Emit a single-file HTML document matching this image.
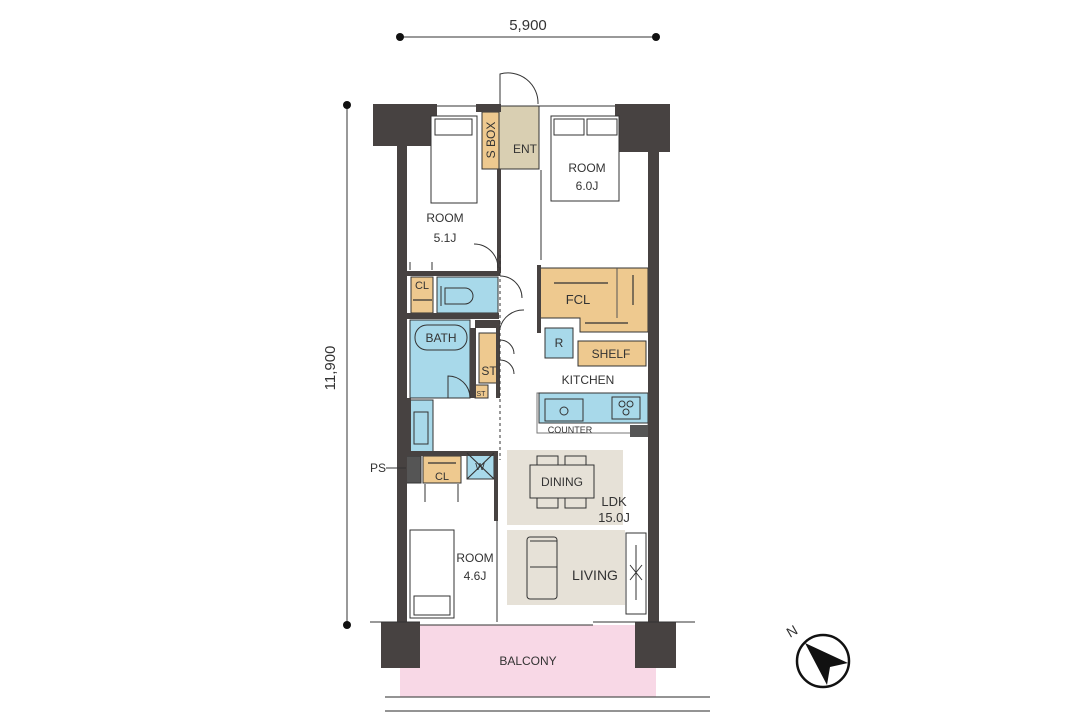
<!DOCTYPE html>
<html><head><meta charset="utf-8"><style>
html,body{margin:0;padding:0;background:#fff;}
svg{display:block;}
text{font-family:"Liberation Sans",sans-serif;fill:#333;}
</style></head><body>
<svg width="1090" height="726" viewBox="0 0 1090 726" xmlns="http://www.w3.org/2000/svg">
<!-- dimensions -->
<line x1="400" y1="37" x2="656" y2="37" stroke="#333" stroke-width="1"/>
<circle cx="400" cy="37" r="4" fill="#111"/><circle cx="656" cy="37" r="4" fill="#111"/>
<text x="528" y="30" font-size="15" text-anchor="middle">5,900</text>
<line x1="347" y1="105" x2="347" y2="625" stroke="#333" stroke-width="1"/>
<circle cx="347" cy="105" r="4" fill="#111"/><circle cx="347" cy="625" r="4" fill="#111"/>
<text x="0" y="0" font-size="15" text-anchor="middle" transform="translate(335,368) rotate(-90)">11,900</text>

<!-- balcony -->
<rect x="400" y="625" width="256" height="72" fill="#f8d8e6"/>
<line x1="385" y1="697" x2="710" y2="697" stroke="#555" stroke-width="1.2"/>
<line x1="385" y1="711" x2="710" y2="711" stroke="#555" stroke-width="1.2"/>
<text x="528" y="665" font-size="12" text-anchor="middle">BALCONY</text>

<!-- colored areas -->
<rect x="482" y="112" width="17" height="57" fill="#eec98f" stroke="#333"/>
<rect x="499" y="106" width="40" height="63" fill="#d9cfb2" stroke="#333"/>
<rect x="411" y="277" width="22" height="36" fill="#eec98f" stroke="#333"/>
<rect x="437" y="277" width="61" height="36" fill="#a8d9ea" stroke="#333"/>
<path d="M540 268 H648 V332 H580 V318 H540 Z" fill="#eec98f" stroke="#333"/>
<line x1="617" y1="268" x2="617" y2="318" stroke="#555"/>
<rect x="410" y="320" width="60" height="78" fill="#a8d9ea" stroke="#333"/>
<rect x="479" y="333" width="20" height="50" fill="#eec98f" stroke="#333"/>
<rect x="475" y="385" width="13" height="13" fill="#eec98f" stroke="#333"/>
<rect x="545" y="328" width="28" height="30" fill="#a8d9ea" stroke="#333"/>
<rect x="578" y="341" width="68" height="25" fill="#eec98f" stroke="#333"/>
<rect x="537" y="393" width="111" height="40" fill="#fff" stroke="#777"/>
<rect x="539" y="393" width="109" height="30" fill="#a8d9ea" stroke="#333"/>
<rect x="630" y="425" width="18" height="12" fill="#555"/>
<rect x="410" y="400" width="23" height="52" fill="#a8d9ea" stroke="#333"/>
<rect x="406" y="456" width="15" height="27" fill="#555" stroke="#333"/>
<rect x="423" y="456" width="38" height="27" fill="#eec98f" stroke="#333"/>
<rect x="467" y="453" width="27" height="26" fill="#a8d9ea" stroke="#333"/>
<rect x="507" y="450" width="116" height="75" fill="#e6e1d7"/>
<rect x="507" y="530" width="118" height="75" fill="#e6e1d7"/>

<!-- walls -->
<g fill="#474241">
<rect x="373" y="104" width="64" height="42"/>
<rect x="397" y="146" width="10" height="478"/>
<rect x="615" y="104" width="55" height="48"/>
<rect x="648" y="152" width="11" height="472"/>
<rect x="381" y="622" width="39" height="46"/>
<rect x="635" y="622" width="41" height="46"/>
<rect x="476" y="104" width="25" height="8"/>
<rect x="497" y="169" width="4" height="104"/>
<rect x="407" y="271" width="93" height="5"/>
<rect x="407" y="313" width="92" height="6"/>
<rect x="475" y="320" width="25" height="8"/>
<rect x="470" y="328" width="6" height="70"/>
<rect x="496" y="328" width="4" height="70"/>
<rect x="407" y="398" width="4" height="58"/>
<rect x="404" y="451" width="94" height="5"/>
<rect x="494" y="451" width="4" height="70"/>
<rect x="537" y="265" width="4" height="68"/>
</g>
<g stroke="#333" stroke-width="1" fill="none">
<line x1="437" y1="106" x2="476" y2="106"/><line x1="539" y1="106" x2="615" y2="106"/>
<line x1="370" y1="622" x2="420" y2="622"/><line x1="420" y1="625" x2="593" y2="625"/><line x1="593" y1="622" x2="695" y2="622"/>
<line x1="497" y1="521" x2="497" y2="622"/>
<line x1="541" y1="170" x2="541" y2="260"/>
<line x1="500" y1="255" x2="500" y2="460" stroke-dasharray="3 3"/>
<!-- beds -->
<rect x="431" y="116" width="46" height="87" fill="#fff"/>
<rect x="435" y="119" width="37" height="16"/>
<rect x="551" y="116" width="68" height="85" fill="#fff"/>
<rect x="554" y="119" width="30" height="16"/><rect x="587" y="119" width="30" height="16"/>
<rect x="410" y="530" width="44" height="88" fill="#fff"/>
<rect x="414" y="596" width="36" height="19"/>
<!-- doors -->
<path d="M500 104 V74 A30 30 0 0 1 538 104"/>
<path d="M498 268 A24 24 0 0 0 474 244"/>
<path d="M500 276 A22 22 0 0 1 522 298 M500 328 A24 24 0 0 1 524 310"/>
<path d="M470 398 A22 22 0 0 0 448 376 V398"/>
<path d="M500 340 A14 14 0 0 1 514 354 M500 360 A14 14 0 0 1 514 374"/>
<path d="M425 484 V502 M458 484 V502"/>
<path d="M410 270 V262 M432 270 V262"/>
<!-- bath etc -->
<rect x="415" y="325" width="52" height="25" rx="12"/>
<path d="M445 288 h20 a8 8 0 0 1 0 16 h-20 Z M441 286 v20"/>
<rect x="414" y="412" width="14" height="32"/>
<rect x="545" y="399" width="38" height="22"/><circle cx="564" cy="411" r="4"/>
<rect x="612" y="397" width="28" height="22"/>
<circle cx="622" cy="404" r="3"/><circle cx="630" cy="404" r="3"/><circle cx="626" cy="412" r="3"/>
<!-- dining -->
<rect x="530" y="465" width="64" height="33" fill="#e6e1d7"/>
<rect x="537" y="456" width="21" height="9"/><rect x="565" y="456" width="21" height="9"/>
<rect x="537" y="498" width="21" height="10"/><rect x="565" y="498" width="21" height="10"/>
<!-- sofa -->
<rect x="527" y="537" width="30" height="62" rx="3"/>
<line x1="530" y1="541" x2="557" y2="541"/><line x1="530" y1="567" x2="557" y2="567"/>
<rect x="626" y="533" width="20" height="81" fill="#fff"/>
<line x1="636" y1="545" x2="636" y2="600"/><path d="M630 565 L642 580 M642 565 L630 580"/>
</g>
<!-- hatches -->
<g stroke="#333" stroke-width="1.2" fill="none">
<line x1="554" y1="283" x2="608" y2="283"/><line x1="585" y1="323" x2="628" y2="323"/>
<line x1="633" y1="275" x2="633" y2="305"/><line x1="428" y1="463" x2="456" y2="463"/>
<line x1="413" y1="300" x2="432" y2="300"/>
<line x1="467" y1="453" x2="494" y2="479"/><line x1="494" y1="453" x2="467" y2="479"/>
</g>
<!-- labels -->
<g font-size="12">
<text x="445" y="222" text-anchor="middle">ROOM</text><text x="445" y="242" text-anchor="middle">5.1J</text>
<text x="587" y="172" text-anchor="middle">ROOM</text><text x="587" y="190" text-anchor="middle">6.0J</text>
<text x="525" y="153" text-anchor="middle">ENT</text>
<text x="0" y="0" text-anchor="middle" transform="translate(495,140) rotate(-90)">S BOX</text>
<text x="422" y="289" text-anchor="middle" font-size="11">CL</text>
<text x="578" y="304" text-anchor="middle" font-size="13">FCL</text>
<text x="441" y="342" text-anchor="middle">BATH</text>
<text x="489" y="375" text-anchor="middle">ST</text>
<text x="481" y="396" text-anchor="middle" font-size="7">ST</text>
<text x="559" y="347" text-anchor="middle">R</text>
<text x="611" y="358" text-anchor="middle">SHELF</text>
<text x="588" y="384" text-anchor="middle">KITCHEN</text>
<text x="570" y="433" text-anchor="middle" font-size="9">COUNTER</text>
<text x="378" y="472" text-anchor="middle">PS</text>
<line x1="386" y1="468" x2="406" y2="468" stroke="#333"/>
<text x="442" y="480" text-anchor="middle" font-size="11">CL</text>
<text x="480" y="470" text-anchor="middle" font-size="10">W</text>
<text x="562" y="486" text-anchor="middle">DINING</text>
<text x="614" y="506" text-anchor="middle" font-size="13">LDK</text><text x="614" y="522" text-anchor="middle" font-size="13">15.0J</text>
<text x="595" y="580" text-anchor="middle" font-size="14">LIVING</text>
<text x="475" y="562" text-anchor="middle">ROOM</text><text x="475" y="580" text-anchor="middle">4.6J</text>
</g>
<!-- compass -->
<circle cx="823" cy="661" r="26" fill="#fff" stroke="#111" stroke-width="2.5"/>
<path d="M805 643 L848 663 L830 667 L827 685 Z" fill="#111"/>
<text x="0" y="0" font-size="14" transform="translate(790,638) rotate(-30)">N</text>
</svg>
</body></html>
